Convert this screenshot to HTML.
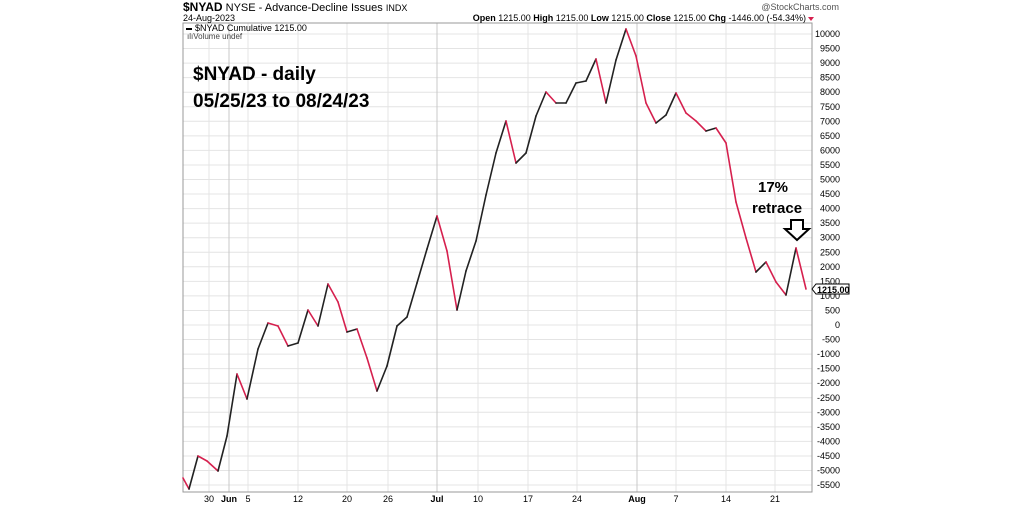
<!DOCTYPE html>
<html><head><meta charset="utf-8"><style>
body{margin:0;background:#fff;width:1022px;height:507px;overflow:hidden}
svg{display:block;font-family:"Liberation Sans",sans-serif}
</style></head><body>
<svg id="s" width="1022" height="507" viewBox="0 0 1022 507">
<g id="grid"></g>
<rect x="183" y="23" width="629" height="469" fill="none" stroke="#999" stroke-width="1"/>
<text x="183" y="11" font-size="11" fill="#000"><tspan font-weight="bold" font-size="12">$NYAD</tspan> NYSE - Advance-Decline Issues <tspan font-size="9">INDX</tspan></text>
<text x="183" y="21" font-size="9" fill="#000">24-Aug-2023</text>
<text x="839" y="10" font-size="9" fill="#555" text-anchor="end">@StockCharts.com</text>
<text x="806" y="21" font-size="9" fill="#000" text-anchor="end"><tspan font-weight="bold">Open</tspan> 1215.00 <tspan font-weight="bold">High</tspan> 1215.00 <tspan font-weight="bold">Low</tspan> 1215.00 <tspan font-weight="bold">Close</tspan> 1215.00 <tspan font-weight="bold">Chg</tspan> -1446.00 (-54.34%)</text>
<polygon points="808,17 814,17 811,21" fill="#d6204e"/>
<rect x="186" y="28" width="6" height="2" fill="#000"/>
<text x="195" y="31" font-size="9" fill="#000">$NYAD Cumulative 1215.00</text>
<text x="187" y="39" font-size="8" fill="#444">ılıVolume undef</text>
<g id="lines"></g>
<text x="193" y="80" font-size="19" font-weight="bold" fill="#000">$NYAD - daily</text>
<text x="193" y="107" font-size="19" font-weight="bold" fill="#000">05/25/23 to 08/24/23</text>
<text x="758" y="192" font-size="15" font-weight="bold" fill="#000">17%</text>
<text x="752" y="213" font-size="15" font-weight="bold" fill="#000">retrace</text>
<polygon points="791,220 803,220 803,229 809,229 797,240 785,229 791,229" fill="#fff" stroke="#000" stroke-width="2"/>
<g id="yl" font-size="9" fill="#000"></g>
<g id="xl" font-size="9" fill="#000"></g>
<polygon points="812,289 816,284 849,284 849,294 816,294" fill="#fff" stroke="#000"/>
<text x="817" y="293" font-size="9" font-weight="bold">1215.00</text>
</svg>
<script>
var ns="http://www.w3.org/2000/svg";
function el(p,t,a,txt){var e=document.createElementNS(ns,t);for(var k in a)e.setAttribute(k,a[k]);if(txt!==undefined)e.textContent=txt;document.getElementById(p).appendChild(e);return e;}
function Y(v){return 34+(10000-v)/500*14.55;}
for(var v=-5500;v<=10000;v+=500){var y=Y(v);el("grid","line",{x1:183,x2:812,y1:y,y2:y,stroke:"#e4e4e4"});el("yl","text",{x:840,y:y+3,"text-anchor":"end"},String(v));}
var xs=[[209,"30",0],[229,"Jun",1],[248,"5",0],[298,"12",0],[347,"20",0],[388,"26",0],[437,"Jul",1],[478,"10",0],[528,"17",0],[577,"24",0],[637,"Aug",1],[676,"7",0],[726,"14",0],[775,"21",0]];
xs.forEach(function(d){el("grid","line",{x1:d[0],x2:d[0],y1:23,y2:492,stroke:d[2]?"#c8c8c8":"#e4e4e4"});var t=el("xl","text",{x:d[0],y:502,"text-anchor":"middle"},d[1]);if(d[2])t.setAttribute("font-weight","bold");});
var p=[[183,478],[189,489],[198,456],[207,461],[218,471],[227,436],[237,374],[247,399],[258,349],[268,323],[278,326],[288,346],[298,343],[308,310],[318,326],[328,284],[338,302],[347,332],[357,329],[367,358],[377,391],[387,366],[397,326],[407,317],[417,283],[427,249],[437,216],[447,251],[457,310],[466,271],[476,241],[486,195],[496,153],[506,121],[516,163],[526,153],[536,116],[546,92],[556,103],[566,103],[576,83],[586,81],[596,59],[606,103],[616,60],[626,29],[636,56],[646,103],[656,123],[666,115],[676,93],[686,113],[696,121],[706,131],[716,128],[726,143],[736,202],[746,238],[756,272],[766,262],[776,282],[786,295],[796,248],[806,289]];
for(var i=1;i<p.length;i++){el("lines","line",{x1:p[i-1][0],y1:p[i-1][1],x2:p[i][0],y2:p[i][1],stroke:p[i][1]>p[i-1][1]?"#d6204e":"#222","stroke-width":1.6,"stroke-linecap":"round"});}
</script>
</body></html>
